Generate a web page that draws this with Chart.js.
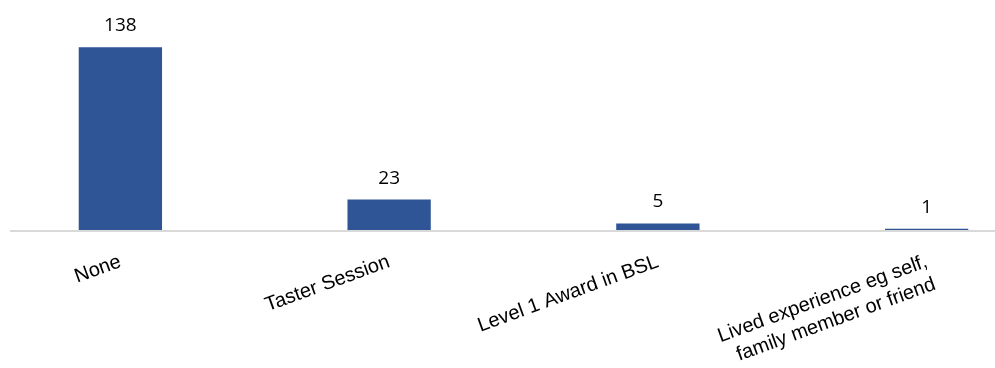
<!DOCTYPE html>
<html lang="en">
<head>
<meta charset="UTF-8">
<title>BSL experience</title>
<script src="https://cdn.jsdelivr.net/npm/chart.js@4.4.1/dist/chart.umd.min.js"></script>
<style>
    html, body {
        margin: 0;
        padding: 0;
        background: #fff;
        overflow: hidden;
    }
    .wrap {
        position: relative;
        width: 995px;
        height: 368px;
        overflow: hidden;
    }
    #chart {
        position: absolute;
        left: -14px;
        top: 0;
    }
</style>
</head>
<body>
<div class="wrap">
    <canvas id="chart" width="1075" height="368"></canvas>
</div>
<script>
    const categories = [
        'None',
        'Taster Session',
        'Level 1 Award in BSL',
        ['Lived experience eg self,', 'family member or friend']
    ];
    const counts = [138, 23, 5, 1];
    const yMax = 160;

    // value labels above each bar
    const valueLabels = {
        id: 'valueLabels',
        afterDatasetsDraw(chart) {
            const ctx = chart.ctx;
            const meta = chart.getDatasetMeta(0);
            ctx.save();
            ctx.font = '19px "Open Sans"';
            ctx.fillStyle = '#000';
            ctx.textAlign = 'center';
            ctx.textBaseline = 'alphabetic';
            meta.data.forEach((bar, i) => {
                ctx.fillText(String(counts[i]), bar.x, bar.y - 16);
            });
            ctx.restore();
        }
    };

    // light grey baseline (starts a little in from the left edge)
    const baseLine = {
        id: 'baseLine',
        afterDatasetsDraw(chart) {
            const ctx = chart.ctx;
            const y = chart.scales.y.getPixelForValue(0);
            ctx.save();
            ctx.strokeStyle = '#d9d9d9';
            ctx.lineWidth = 2;
            ctx.beginPath();
            ctx.moveTo(24, y + 1);
            ctx.lineTo(chart.width, y + 1);
            ctx.stroke();
            ctx.restore();
        }
    };

    new Chart(document.getElementById('chart'), {
        type: 'bar',
        data: {
            labels: categories,
            datasets: [{
                data: counts,
                backgroundColor: '#2f5597',
                borderWidth: 0,
                barPercentage: 1,
                categoryPercentage: 0.31
            }]
        },
        options: {
            responsive: false,
            animation: false,
            layout: { padding: { top: 18, left: 0, right: 0, bottom: 0 } },
            plugins: {
                legend: { display: false },
                tooltip: { enabled: false }
            },
            scales: {
                x: {
                    grid: { display: false, drawTicks: false },
                    border: { display: false },
                    afterFit(scale) { scale.height = 138; },
                    ticks: {
                        autoSkip: false,
                        maxRotation: 20,
                        minRotation: 20,
                        padding: 20,
                        color: '#000',
                        font: { family: '"Liberation Sans", Arial, sans-serif', size: 20 }
                    }
                },
                y: {
                    display: false,
                    min: 0,
                    max: yMax
                }
            }
        },
        plugins: [baseLine, valueLabels]
    });
</script>
</body>
</html>
